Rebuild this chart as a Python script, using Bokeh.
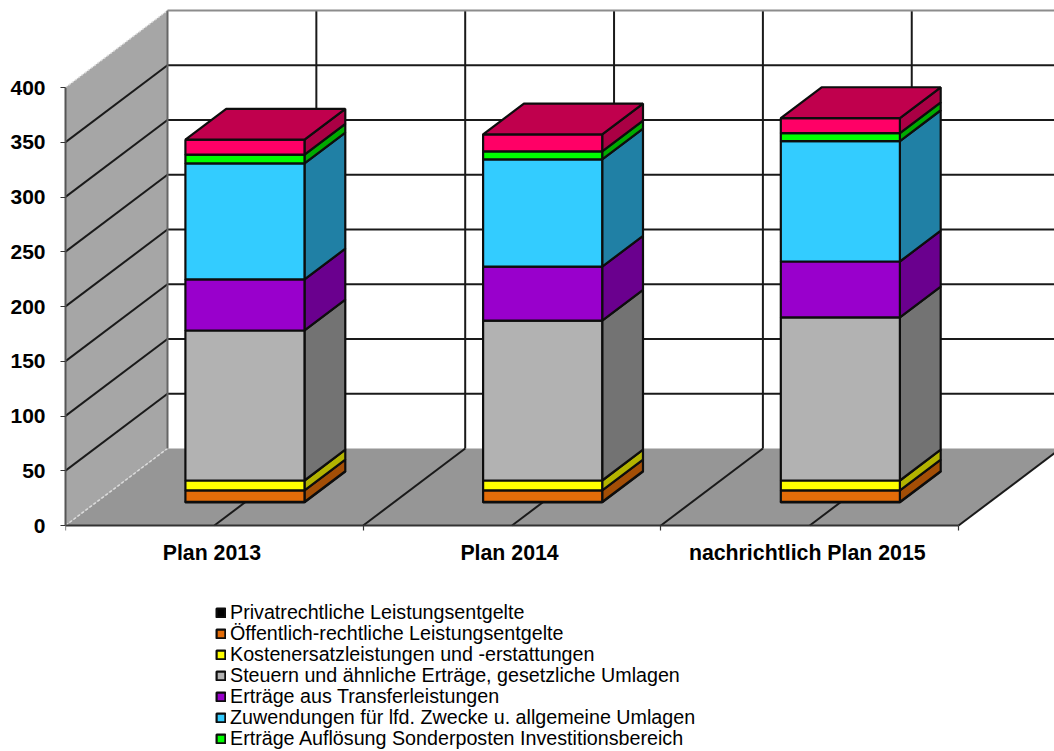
from bokeh.plotting import figure
from bokeh.embed import file_html
from bokeh.resources import INLINE
from bokeh.models import FixedTicker, Legend, LegendItem, Range1d
import numpy as np

categories = ["Plan 2013", "Plan 2014", "nachrichtlich Plan 2015"]
privat = [0.5, 0.5, 0.5]
oeffentlich = [10.5, 10.5, 10.5]
kostenersatz = [9, 9, 9]
steuern = [137, 146, 149]
transfer = [46.6, 49.3, 51]
zuwendungen = [106, 98, 110]
sonderposten = [8, 7.3, 7.3]
sonstige = [13.7, 15.5, 13.7]
y_ticks = [0, 50, 100, 150, 200, 250, 300, 350, 400]

series = [
    ("Privatrechtliche Leistungsentgelte", privat, "#000000", "#000000", True),
    ("Öffentlich-rechtliche Leistungsentgelte", oeffentlich, "#E36C09", "#A34E06", True),
    ("Kostenersatzleistungen und -erstattungen", kostenersatz, "#FFFF00", "#B3B300", True),
    ("Steuern und ähnliche Erträge, gesetzliche Umlagen", steuern, "#B2B2B2", "#737373", True),
    ("Erträge aus Transferleistungen", transfer, "#9900CC", "#6A008E", True),
    ("Zuwendungen für lfd. Zwecke u. allgemeine Umlagen", zuwendungen, "#33CCFF", "#2080A5", True),
    ("Erträge Auflösung Sonderposten Investitionsbereich", sonderposten, "#00FF00", "#00AA00", True),
    ("Sonstige", sonstige, "#FF0066", "#AA0044", False),
]
top_color = "#C0004D"

FONT = "Liberation Sans"
PX_CAT = 297.7
PX_VAL = 1.095
W, H = 1054, 751
L, T = 65, 8
AXIS_Y = 525
x_end = (W - L) / PX_CAT
y_end = (AXIS_Y - T) / PX_VAL
y_start = -(H - AXIS_Y) / PX_VAL
DX = 102 / PX_CAT
DY = 77 / PX_VAL
BAR_W = 0.4
F0, F1 = 0.3, 0.7
n = len(categories)

p = figure(width=W, height=H, output_backend="svg", toolbar_location=None,
           x_range=Range1d(0, x_end), y_range=Range1d(y_start, y_end),
           min_border_left=L, min_border_bottom=0, min_border_top=T, min_border_right=0,
           outline_line_color=None, background_fill_color="white", border_fill_color="white")
p.xgrid.visible = False
p.ygrid.visible = False

# floor and left wall
p.patch([0, n, n + DX, DX], [0, 0, DY, DY], fill_color="#969696", line_color=None)
p.patch([0, DX, DX, 0], [0, DY, 400 + DY, 400], fill_color="#A6A6A6", line_color=None)
p.line([0, DX], [400, 400 + DY], line_color="#DDDDDD", line_width=1.5, line_dash="2 2")
p.line([0, DX], [0, DY], line_color="#DDDDDD", line_width=1.5, line_dash="3 2")

# gridlines
gx, gy = [], []
for v in y_ticks[1:-1]:
    gx += [[0, DX], [DX, n + DX]]
    gy += [[v, v + DY], [v + DY, v + DY]]
half = [k * 0.5 for k in range(1, 2 * n + 1)]
for k in half:
    gx += [[k, k + DX], [k + DX, k + DX]]
    gy += [[0, DY], [DY, 400 + DY]]
p.multi_line(gx, gy, line_color="#1A1A1A", line_width=2)
p.line([DX, DX], [DY, 400 + DY], line_color="#666666", line_width=2)
p.line([DX, n + DX], [400 + DY, 400 + DY], line_color="#8C8C8C", line_width=2)

# bars
items = []
centers = np.arange(n) + 0.5
left = centers - BAR_W / 2 + F0 * DX
right = centers + BAR_W / 2 + F0 * DX
y0 = F0 * DY
bottom = np.zeros(n)
LW = 2.2
LC = "#0D0D0D"
for name, vals, front, side, in_legend in series:
    vals = np.array(vals, dtype=float)
    top = bottom + vals
    sx, sy = [], []
    for i in range(n):
        sx.append([right[i], right[i] + (F1 - F0) * DX, right[i] + (F1 - F0) * DX, right[i]])
        sy.append([bottom[i] + y0, bottom[i] + y0 + (F1 - F0) * DY,
                   top[i] + y0 + (F1 - F0) * DY, top[i] + y0])
    p.patches(sx, sy, fill_color=side, line_color=LC, line_width=LW)
    r = p.quad(left=left, right=right, bottom=bottom + y0, top=top + y0,
               fill_color=front, line_color=LC, line_width=LW)
    if in_legend:
        items.append(LegendItem(label=name, renderers=[r]))
    bottom = top

tx, ty = [], []
for i in range(n):
    d = (F1 - F0)
    tx.append([left[i], right[i], right[i] + d * DX, left[i] + d * DX])
    ty.append([bottom[i] + y0, bottom[i] + y0, bottom[i] + y0 + d * DY, bottom[i] + y0 + d * DY])
p.patches(tx, ty, fill_color=top_color, line_color=LC, line_width=LW)

# axes
label_pos = centers - 2.5 / PX_CAT
xa = p.xaxis[0]
xa.fixed_location = 0
xa.ticker = FixedTicker(ticks=list(label_pos), minor_ticks=list(range(n + 1)))
xa.major_label_overrides = {float(c): t for c, t in zip(label_pos, categories)}
xa.major_tick_line_color = None
xa.minor_tick_in = 0
xa.minor_tick_out = 5
xa.minor_tick_line_color = "#333333"
xa.minor_tick_line_width = 1.2
xa.axis_line_color = "#333333"
xa.axis_line_width = 2
xa.bounds = (0, n)
xa.major_label_text_font = FONT
xa.major_label_text_font_style = "bold"
xa.major_label_text_font_size = "21.3px"
xa.major_label_text_color = "#000000"
xa.major_label_standoff = 9

ya = p.yaxis[0]
ya.ticker = FixedTicker(ticks=y_ticks)
ya.minor_tick_line_color = None
ya.major_tick_in = 0
ya.major_tick_out = 5
ya.major_tick_line_color = "#333333"
ya.major_tick_line_width = 1.2
ya.axis_line_color = "#555555"
ya.axis_line_width = 2
ya.bounds = (0, 400)
ya.major_label_text_font = FONT
ya.major_label_text_font_style = "bold"
ya.major_label_text_font_size = "21px"
ya.major_label_text_color = "#000000"
ya.major_label_standoff = 15

ROW = 21
for i, it in enumerate(items):
    legend = Legend(items=[it], location=(150, 1 + ROW * (len(items) - 1 - i)), orientation="vertical",
                    background_fill_alpha=0, border_line_color=None,
                    label_text_font=FONT, label_text_font_size="19.7px", label_text_color="#000000",
                    glyph_width=11, glyph_height=11, label_standoff=4, spacing=0,
                    margin=0, padding=0)
    p.add_layout(legend, "center")

open("out.html", "w").write(file_html(p, INLINE))
